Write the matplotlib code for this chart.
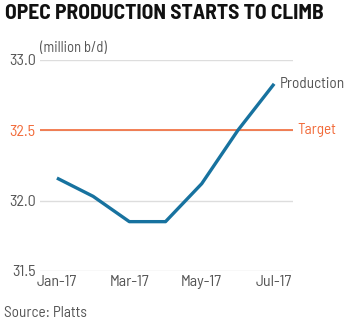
import matplotlib.pyplot as plt

plt.rcParams['font.family'] = ['Barlow Semi Condensed', 'DejaVu Sans']

months = ['Jan-17', 'Feb-17', 'Mar-17', 'Apr-17', 'May-17', 'Jun-17', 'Jul-17']
production = [32.16, 32.03, 31.85, 31.85, 32.12, 32.50, 32.83]
target = 32.5
yticks = [31.5, 32.0, 32.5, 33.0]

blue = '#17729f'
orange = '#f26b3a'
grey = '#555555'

fig = plt.figure(figsize=(3.5, 3.24), dpi=100)
ax = fig.add_axes([0.114, 0.164, 0.723, 0.651])

x = list(range(len(months)))
for v in yticks:
    ax.axhline(v, color='#dddddd', lw=1, zorder=0)
ax.axhline(target, color=orange, lw=1.2, zorder=1)
ax.plot(x, production, color=blue, lw=2.4, zorder=2, solid_capstyle='butt')

ax.set_xlim(-0.47, 6.52)
ax.set_ylim(31.5, 33.0)
ax.set_yticks(yticks)
ax.set_yticklabels([f'{v:.1f}' for v in yticks], fontsize=11.5, color=grey)
ax.get_yticklabels()[2].set_color(orange)
ax.set_xticks(x[::2])
ax.set_xticklabels(months[::2], fontsize=11.5, color=grey)
ax.tick_params(length=0, pad=3)
for s in ax.spines.values():
    s.set_visible(False)

ax.text(x[-1] + 0.15, production[-1], 'Production', fontsize=11, color=grey,
        va='center', ha='left', clip_on=False)
ax.text(6.65, target, 'Target', fontsize=11, color=orange,
        va='center', ha='left', clip_on=False)

fig.text(0.015, 0.957, 'OPEC PRODUCTION STARTS TO CLIMB', fontsize=15.5,
         fontweight='bold', color='#111111', va='center', ha='left')
fig.text(0.114, 0.852, '(million b/d)', fontsize=10.5, color=grey, va='center')
fig.text(0.01, 0.035, 'Source: Platts', fontsize=11, color=grey, va='center')

fig.savefig('out.png', dpi=100)
